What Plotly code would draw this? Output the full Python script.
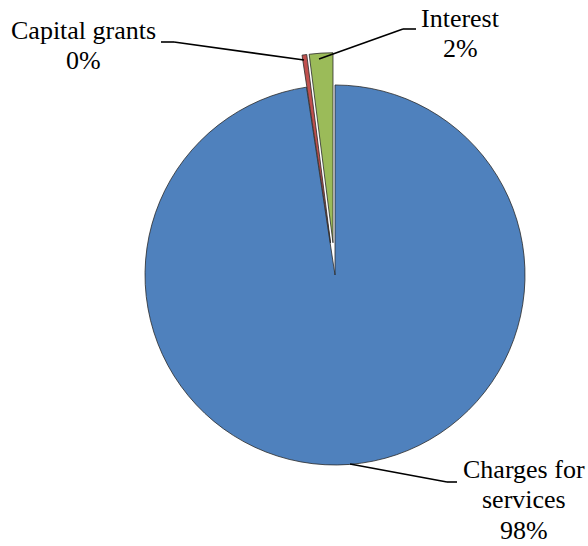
import plotly.graph_objects as go

labels = ["Charges for services", "Capital grants", "Interest"]
values = [97.6, 0.4, 2.0]
colors = ["#4F81BD", "#C0504D", "#9BBB59"]
pulls = [0.0, 0.17, 0.17]
label_lines = [["Charges for", "services"], ["Capital grants"], ["Interest"]]

W, H = 588, 546
total = sum(values)
pcts = [round(v / total * 100) for v in values]

def px(x, y):
    return x / W, 1 - y / H

fig = go.Figure(go.Pie(
    labels=labels, values=values, sort=False, direction="clockwise", rotation=0,
    pull=pulls, textinfo="none", hoverinfo="label+percent",
    marker=dict(colors=colors, line=dict(color="#2a2a2a", width=0.8)),
    domain=dict(x=[0.1917, 0.9478], y=[0.0892, 0.9035]),
))

FS = 26
font = dict(family="Liberation Serif, Times New Roman, serif", size=FS, color="black")

# label block: centre x and baseline of first line (pixels), line spacing
label_pos = [(524, 478), (83, 39), (460, 27)]
line_gap = 30.5
for lines, p, (lx, by) in zip(label_lines, pcts, label_pos):
    all_lines = lines + [f"{p}%"]
    for i, t in enumerate(all_lines):
        x, y = px(lx, by + i * line_gap - 0.335 * FS)
        fig.add_annotation(x=x, y=y, xref="paper", yref="paper", text=t,
                           showarrow=False, xanchor="center", yanchor="middle", font=font)

leaders = [
    [(350, 464), (447, 482), (457, 482)],
    [(161, 42), (174, 42), (304, 60)],
    [(319, 59), (403, 29), (416, 29)],
]
for pts in leaders:
    for (x0, y0), (x1, y1) in zip(pts[:-1], pts[1:]):
        a0, b0 = px(x0, y0)
        a1, b1 = px(x1, y1)
        fig.add_shape(type="line", xref="paper", yref="paper", x0=a0, y0=b0, x1=a1, y1=b1,
                      line=dict(color="black", width=1.6))

fig.update_layout(width=W, height=H, autosize=False, margin=dict(l=0, r=0, t=0, b=0),
                  font=dict(family="Liberation Serif, Times New Roman, serif", size=FS, color="black"),
                  showlegend=False, paper_bgcolor="white", plot_bgcolor="white")
fig.write_html("out.html")
